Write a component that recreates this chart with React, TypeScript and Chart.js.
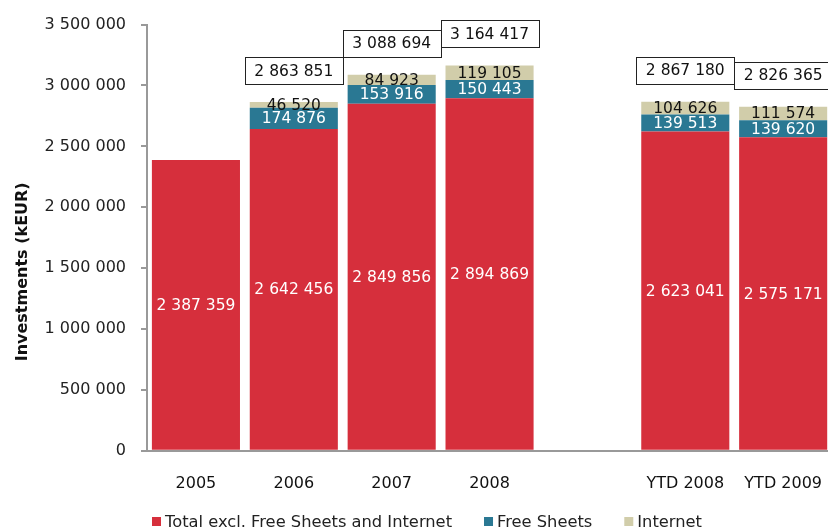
import React, { useEffect, useRef } from "react";
import { Chart, registerables } from "chart.js";

Chart.register(...registerables);

const categories = ["2005", "2006", "2007", "2008", "", "YTD 2008", "YTD 2009"];
const totalExcl = [2387359, 2642456, 2849856, 2894869, null, 2623041, 2575171];
const freeSheets = [null, 174876, 153916, 150443, null, 139513, 139620];
const internet = [null, 46520, 84923, 119105, null, 104626, 111574];
const totals = [null, 2863851, 3088694, 3164417, null, 2867180, 2826365];
const seriesNames = ["Total excl. Free Sheets and Internet", "Free Sheets", "Internet"];
const seriesColors = ["#d62f3c", "#2a7893", "#d1cdaa"];
const labelColors = ["#ffffff", "#ffffff", "#111111"];
const yTitle = "Investments (kEUR)";

const fmt = (v: number) => String(v).replace(/\B(?=(\d{3})+(?!\d))/g, " ");

const FAMILY = '"DejaVu Sans", Verdana, sans-serif';
const NUM_FONT = '15.5px ' + FAMILY;

const labelPlugin = {
  id: "stackLabels",
  afterDatasetsDraw(chart: any) {
    const ctx = chart.ctx;
    ctx.save();
    ctx.font = NUM_FONT;
    ctx.textAlign = "center";
    ctx.textBaseline = "middle";
    chart.data.datasets.forEach((ds: any, di: number) => {
      const meta = chart.getDatasetMeta(di);
      meta.data.forEach((bar: any, i: number) => {
        const v = ds.data[i];
        if (v == null) return;
        const { x, y, base } = bar.getProps(["x", "y", "base"], true);
        ctx.fillStyle = labelColors[di];
        ctx.fillText(fmt(v), x, (y + base) / 2 + 1);
      });
    });
    const xs = chart.scales.x;
    const ys = chart.scales.y;
    totals.forEach((t, i) => {
      if (t == null) return;
      const x = xs.getPixelForValue(i);
      const top = ys.getPixelForValue(t);
      const txt = fmt(t);
      const w = Math.round(ctx.measureText(txt).width + 19);
      const h = 27;
      const bottom = top - 18;
      const bx = Math.round(x - w / 2) + 0.5;
      const by = Math.round(bottom - h) + 0.5;
      ctx.fillStyle = "#ffffff";
      ctx.fillRect(bx, by, w, h);
      ctx.strokeStyle = "#222222";
      ctx.lineWidth = 1;
      ctx.strokeRect(bx, by, w, h);
      ctx.fillStyle = "#111111";
      ctx.fillText(txt, x, bottom - h / 2 + 1);
    });
    ctx.restore();

    // y axis title
    const ca = chart.chartArea;
    ctx.save();
    ctx.translate(23, ca.top + (ca.bottom - ca.top) * 0.58);
    ctx.rotate(-Math.PI / 2);
    ctx.font = "bold 16px " + FAMILY;
    ctx.textAlign = "center";
    ctx.textBaseline = "middle";
    ctx.fillStyle = "#111111";
    ctx.fillText(yTitle, 0, 0);
    ctx.restore();

    // legend
    ctx.save();
    ctx.font = "16.3px " + FAMILY;
    ctx.textAlign = "left";
    ctx.textBaseline = "alphabetic";
    let cx = ca.left + 5;
    const baseY = chart.height - 5;
    chart.data.datasets.forEach((ds: any, di: number) => {
      ctx.fillStyle = seriesColors[di];
      ctx.fillRect(cx, baseY - 10, 9, 9);
      ctx.fillStyle = "#222222";
      ctx.fillText(ds.label, cx + 13, baseY);
      cx += 13 + ctx.measureText(ds.label).width + 32;
    });
    ctx.restore();
  },
};

export default function App() {
  const ref = useRef<HTMLCanvasElement | null>(null);
  useEffect(() => {
    if (!ref.current) return;
    const chart = new Chart(ref.current, {
      type: "bar",
      data: {
        labels: categories,
        datasets: [
          { label: seriesNames[0], data: totalExcl, backgroundColor: seriesColors[0] },
          { label: seriesNames[1], data: freeSheets, backgroundColor: seriesColors[1] },
          { label: seriesNames[2], data: internet, backgroundColor: seriesColors[2] },
        ] as any,
      },
      options: {
        animation: false,
        responsive: false,
        maintainAspectRatio: false,
        datasets: { bar: { categoryPercentage: 1, barPercentage: 0.9 } },
        layout: { padding: { top: 22, bottom: 16, left: 0, right: 0 } },
        plugins: {
          tooltip: { enabled: false },
          legend: { display: false },
        },
        scales: {
          x: {
            stacked: true,
            grid: { display: false, drawTicks: false },
            border: { display: true, color: "#999999", width: 2 },
            ticks: { padding: 23, color: "#111111", font: { family: FAMILY, size: 16 } },
          },
          y: {
            stacked: true,
            min: 0,
            max: 3500000,
            grid: { drawOnChartArea: false, color: "#999999", lineWidth: 2, tickLength: 6 },
            border: { display: true, color: "#999999", width: 2 },
            ticks: {
              stepSize: 500000,
              padding: 15,
              color: "#222222",
              font: { family: FAMILY, size: 16 },
              callback: (v: any) => fmt(Number(v)),
            },
            afterFit: (s: any) => {
              s.width = 147;
            },
          },
        },
      },
      plugins: [labelPlugin],
    });
    return () => chart.destroy();
  }, []);
  return (
    <div style={{ position: "fixed", left: 0, top: 0, width: 828, height: 532, overflow: "hidden", background: "#fff" }}>
      <canvas ref={ref} width={845} height={532} style={{ width: 845, height: 532, display: "block" }} />
    </div>
  );
}
